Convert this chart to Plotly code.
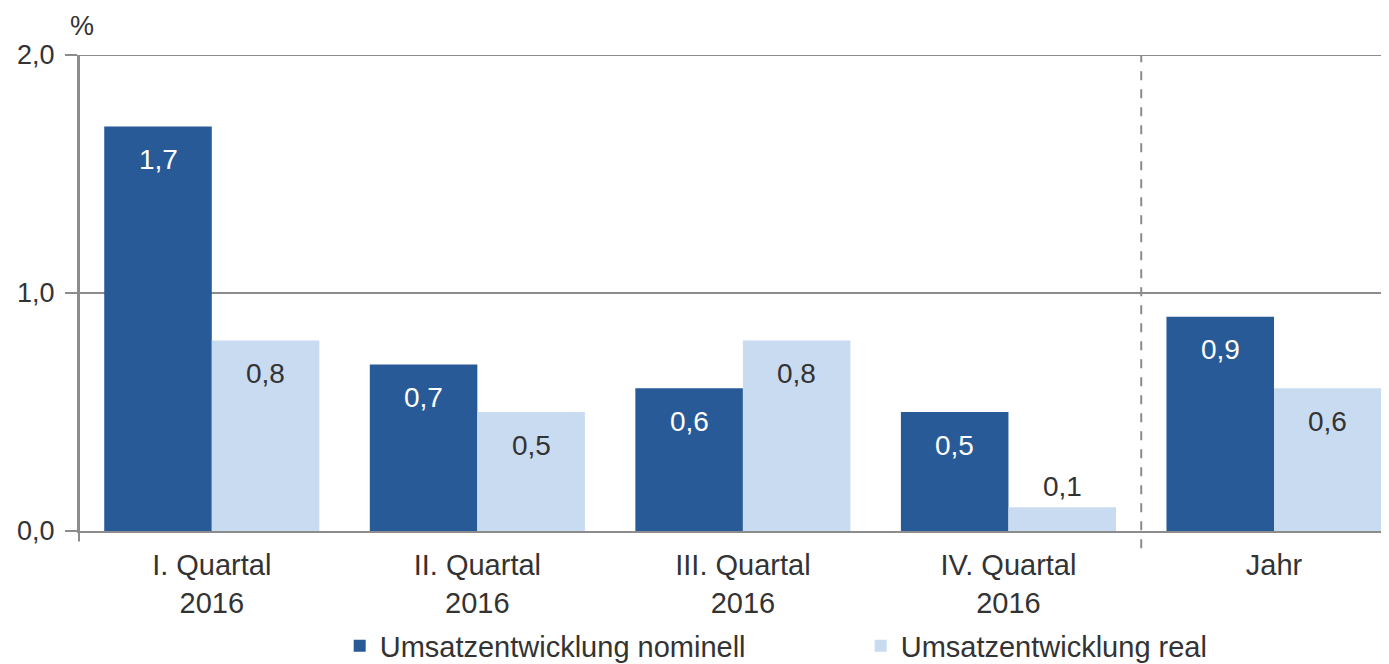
import plotly.graph_objects as go

categories = ["I. Quartal<br>2016", "II. Quartal<br>2016", "III. Quartal<br>2016", "IV. Quartal<br>2016", "Jahr"]
nominell = [1.7, 0.7, 0.6, 0.5, 0.9]
real = [0.8, 0.5, 0.8, 0.1, 0.6]
series_names = ["Umsatzentwicklung nominell", "Umsatzentwicklung real"]

DARK = "#285A98"
LIGHT = "#C9DBF0"
GRID = "#8C8C8C"
TXT = "#333333"
FONT = "Liberation Sans, Arial, sans-serif"

idx = list(range(len(categories)))

fig = go.Figure()
fig.add_trace(go.Bar(x=idx, y=nominell, name=series_names[0], marker=dict(color=DARK, line=dict(width=0))))
fig.add_trace(go.Bar(x=idx, y=real, name=series_names[1], marker=dict(color=LIGHT, line=dict(width=0))))

bargap = 0.19
bw = (1 - bargap) / 2
annotations = []
for vals, off, col in [(nominell, -bw / 2, "white"), (real, bw / 2, TXT)]:
    for i, v in enumerate(vals):
        inside = v >= 0.3
        annotations.append(dict(
            x=i + off, y=v, xref="x", yref="y", text=f"{v:.1f}".replace(".", ","),
            showarrow=False, yshift=-33 if inside else 21,
            font=dict(size=28, color=col if inside else TXT, family=FONT)))
annotations.append(dict(x=0, y=1, xref="paper", yref="paper", text="%", showarrow=False,
                        xanchor="left", yanchor="bottom", yshift=12, xshift=-11,
                        font=dict(size=27, color=TXT, family=FONT)))

shapes = [
    dict(type="line", xref="x", yref="paper", x0=3.5, x1=3.5, y0=-0.036, y1=1,
         line=dict(color=GRID, width=2, dash="dash")),
    dict(type="line", xref="paper", yref="paper", x0=0, x1=0, y0=-0.022, y1=1,
         line=dict(color=GRID, width=2)),
    dict(type="line", xref="paper", yref="y", x0=0, x1=1, y0=2.0, y1=2.0,
         line=dict(color=GRID, width=2)),
]

# page body has an 8px default margin: compensate
fig.update_layout(
    width=1381, height=656,
    margin=dict(l=71, r=0, t=47, b=133, autoexpand=False),
    paper_bgcolor="white", plot_bgcolor="white",
    barmode="group", bargap=bargap, bargroupgap=0,
    separators=",.",
    font=dict(family=FONT, size=28, color=TXT),
    showlegend=True,
    legend=dict(orientation="h", x=0.199, xanchor="left", y=-0.188, yanchor="top",
                font=dict(size=29, color=TXT), entrywidth=476, itemwidth=30,
                traceorder="normal", bgcolor="rgba(0,0,0,0)"),
    annotations=annotations,
    shapes=shapes,
)
fig.update_xaxes(tickmode="array", tickvals=idx, ticktext=categories, range=[-0.5, 4.433],
                 showgrid=False, zeroline=False, showline=True, linecolor=GRID, linewidth=2,
                 ticks="", tickfont=dict(size=29, color=TXT), automargin=False,
                 ticklabelstandoff=7)
fig.update_yaxes(range=[0, 2.0], dtick=1.0, tickformat=".1f", showgrid=True, gridcolor=GRID,
                 gridwidth=2, zeroline=False, showline=True, linecolor=GRID, linewidth=2,
                 ticks="outside", ticklen=12, tickcolor=GRID, tickwidth=2,
                 tickfont=dict(size=27, color=TXT), automargin=False, ticklabelstandoff=5)

fig.write_html("out.html")
